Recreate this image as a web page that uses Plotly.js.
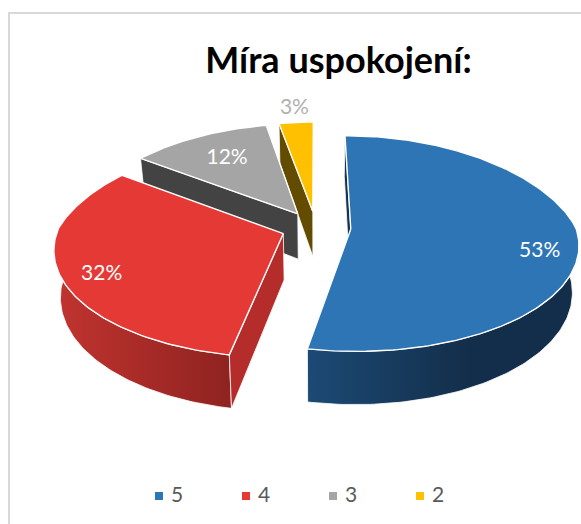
<!DOCTYPE html>
<html><head><meta charset="utf-8">
<script src="https://cdn.plot.ly/plotly-3.0.1.min.js"></script>
<style>html,body{margin:0;padding:0;background:#fff}#c{width:581px;height:524px}</style>
</head><body><div id="c"></div>
<script>
// Data
const categories = ['5','4','3','2'];
const percents = [53,32,12,3];
const titleText = 'Míra uspokojení:';
// Colours
const topColors = ['#2e75b6','#e53935','#a5a5a5','#ffc000'];
const cutColors = ['#16344f','#b52d2a','#434343','#634c00'];

// Projection of the tilted pie onto the chart's axes
const W=581,H=524;
const cx=316, cy=227.5, a=225, b=105.5, k=0.134, kxBack=0.2, pull=0.155, depth=46, shrink=0.975;
function project(U,V){const s=1/(1+k*V);const sx=V>0?1/(1+kxBack*V):s;return [cx+a*U*sx, cy-b*V*s, s];}
function lower(p){return [cx+(p[0]-cx)*shrink, p[1]+depth*p[2]];}
const rad=d=>d*Math.PI/180;

let acc=0;
const slices=percents.map((v,i)=>{
  const start=acc/100*360; acc+=v; const end=acc/100*360; const mid=(start+end)/2;
  const du=pull*Math.sin(rad(mid)), dv=pull*Math.cos(rad(mid));
  return {i,v,start,end,mid,
    pt:(deg,r)=>project(du+r*Math.sin(rad(deg)),dv+r*Math.cos(rad(deg))),
    apex:project(du,dv)};
});
function arc(s,from,to,r){const o=[];const n=Math.max(2,Math.ceil(Math.abs(to-from)));
  for(let j=0;j<=n;j++)o.push(s.pt(from+(to-from)*j/n,r===undefined?1:r));return o;}
function poly(pts,fill,extra,lw){
  const closed=pts.concat([pts[0]]);
  return Object.assign({type:'scatter',mode:'lines',x:closed.map(p=>p[0]),y:closed.map(p=>p[1]),
    fill:'toself',fillcolor:fill,line:{color:'#ffffff',width:lw===undefined?1:lw,shape:'linear'},
    hoverinfo:'skip',showlegend:false},extra||{});
}
function cutWall(s,deg){const c=s.pt(deg,1);return poly([s.apex,c,lower(c),lower(s.apex)],cutColors[s.i],null,0.8);}
function outerWall(s,from,to,grad){const t=arc(s,from,to);const l=t.map(lower).reverse();
  return poly(t.concat(l),cutColors[s.i],{fillgradient:grad},0.8);}
function topFace(s){return poly([s.apex].concat(arc(s,s.start,s.end)),topColors[s.i],null,1.4);}

const [blue,red,grey,yellow]=slices;
const traces=[
  cutWall(yellow,yellow.start), topFace(yellow),
  cutWall(grey,grey.start), topFace(grey),
  cutWall(blue,blue.start),
  outerWall(blue,85,blue.end,{type:'horizontal',start:307,stop:578,colorscale:[[0,'#1c4a75'],[0.6,'#132e4a'],[1,'#132e4a']]}),
  topFace(blue),
  outerWall(red,red.start,290,{type:'horizontal',start:59,stop:230,colorscale:[[0,'#c0332f'],[1,'#8f2320']]}),
  cutWall(red,red.start), topFace(red)
];

// Data labels
const labelSpots=[
  {r:0.84,dx:-2,dy:14,color:'#ffffff'},
  {r:0.82,dx:0,dy:7,color:'#ffffff'},
  {r:0.72,dx:3,dy:2,color:'#ffffff'},
  {r:1.2,dx:1,dy:2,color:'#b0b0b0'}
];
const lp=slices.map((s,i)=>{const p=s.pt(s.mid,labelSpots[i].r);return [p[0]+labelSpots[i].dx,p[1]+labelSpots[i].dy];});
traces.push({type:'scatter',mode:'text',x:lp.map(p=>p[0]),y:lp.map(p=>p[1]),
  text:percents.map(v=>v+'%'),textposition:'middle center',
  textfont:{family:'Lato, sans-serif',size:21,color:labelSpots.map(l=>l.color)},
  hoverinfo:'skip',showlegend:false});

// Legend row
const legX=categories.map((c,i)=>159+87*i), legY=categories.map(()=>496);
traces.push({type:'scatter',mode:'markers',x:legX,y:legY,
  marker:{symbol:'square',size:8,color:topColors},hoverinfo:'skip',showlegend:false});
traces.push({type:'scatter',mode:'text',x:legX.map(x=>x+12),y:legY.map(y=>y+1),text:categories,textposition:'middle right',
  textfont:{family:'Lato, sans-serif',size:21,color:'#595959'},hoverinfo:'skip',showlegend:false});

const layout={
  width:W,height:H,margin:{l:0,r:0,t:0,b:0,autoexpand:false},paper_bgcolor:'#fff',plot_bgcolor:'#fff',showlegend:false,
  xaxis:{range:[0,W],visible:false,fixedrange:true},
  yaxis:{range:[H,0],visible:false,fixedrange:true},
  title:{text:'<b>'+titleText+'</b>',x:338.5/W,xanchor:'center',y:1-60/H,yanchor:'middle',
    font:{family:'Lato, sans-serif',size:36,color:'#000'}},
  shapes:[{type:'rect',xref:'x',yref:'y',x0:9,x1:640,y0:13,y1:600,line:{color:'#d9d9d9',width:2},layer:'below'}]
};
Plotly.newPlot('c',traces,layout,{displayModeBar:false,staticPlot:true});
</script></body></html>
